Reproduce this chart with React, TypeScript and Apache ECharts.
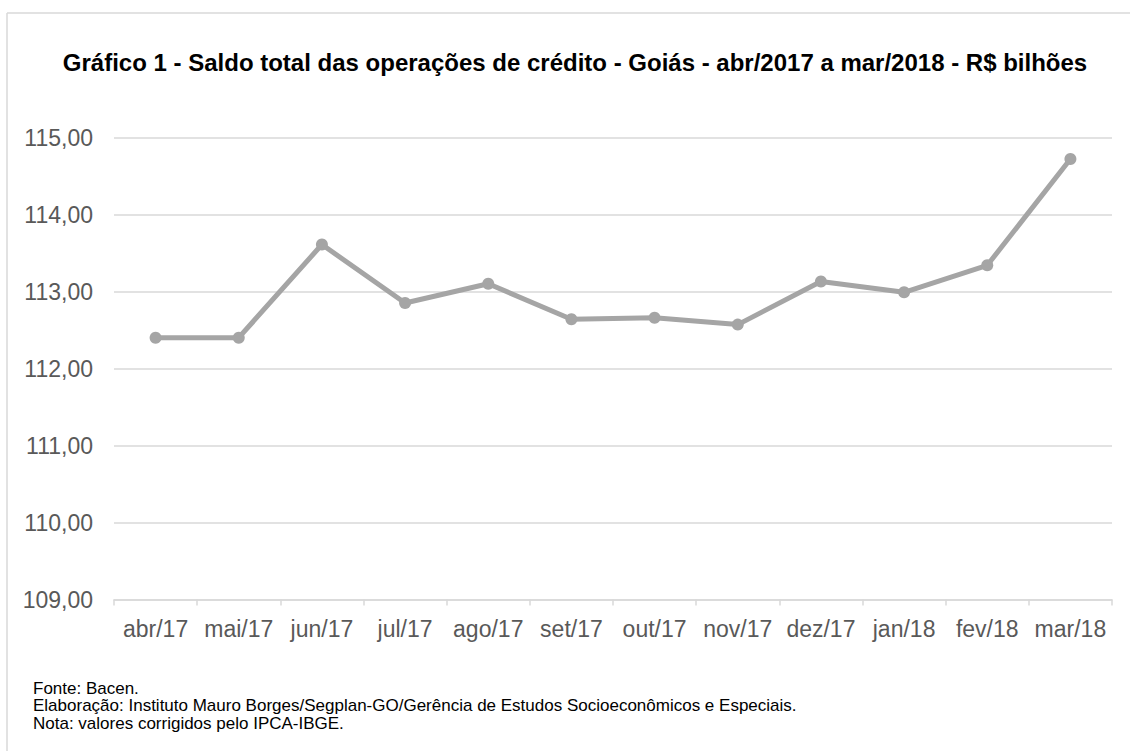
import React, { useEffect, useRef } from "react";
import * as echarts from "echarts";

const categories = ["abr/17", "mai/17", "jun/17", "jul/17", "ago/17", "set/17", "out/17", "nov/17", "dez/17", "jan/18", "fev/18", "mar/18"];
const saldo = [112.4, 112.4, 113.61, 112.85, 113.1, 112.64, 112.66, 112.57, 113.13, 112.99, 113.34, 114.72];
const yMin = 109;
const yMax = 115;
const yStep = 1;
const titleText = "Gráfico 1 - Saldo total das operações de crédito - Goiás - abr/2017 a mar/2018 - R$ bilhões";
const notes = [
  "Fonte: Bacen.",
  "Elaboração: Instituto Mauro Borges/Segplan-GO/Gerência de Estudos Socioeconômicos e Especiais.",
  "Nota: valores corrigidos pelo IPCA-IBGE.",
];

const FONT = "'Liberation Sans', Arial, sans-serif";

export default function App() {
  const ref = useRef<HTMLDivElement>(null);
  useEffect(() => {
    if (!ref.current) return;
    const chart = echarts.init(ref.current, null, { renderer: "svg" });
    chart.setOption({
      animation: false,
      backgroundColor: "#ffffff",
      grid: { left: 114, right: 18, top: 137.5, bottom: 151.5, containLabel: false },
      xAxis: {
        type: "category",
        data: categories,
        boundaryGap: true,
        axisLine: { show: true, lineStyle: { color: "#d9d9d9", width: 1.5 } },
        axisTick: { show: true, alignWithLabel: false, length: 6, lineStyle: { color: "#d9d9d9", width: 1.5 } },
        axisLabel: { color: "#595959", fontSize: 23, fontFamily: FONT, margin: 18, interval: 0 },
      },
      yAxis: {
        type: "value",
        min: yMin,
        max: yMax,
        interval: yStep,
        axisLine: { show: false },
        axisTick: { show: false },
        splitLine: { lineStyle: { color: "#d9d9d9", width: 1.5 } },
        axisLabel: {
          color: "#595959",
          fontSize: 23,
          fontFamily: FONT,
          margin: 21,
          formatter: (v: number) => v.toFixed(2).replace(".", ","),
        },
      },
      series: [
        {
          type: "line",
          data: saldo,
          symbol: "circle",
          symbolSize: 12,
          lineStyle: { color: "#a5a5a5", width: 5 },
          itemStyle: { color: "#a5a5a5" },
        },
      ],
      graphic: [
        {
          type: "line",
          shape: { x1: 7, y1: 13, x2: 1130, y2: 13 },
          style: { stroke: "#d9d9d9", lineWidth: 1.5 },
          silent: true,
        },
        {
          type: "line",
          shape: { x1: 7, y1: 13, x2: 7, y2: 751 },
          style: { stroke: "#d9d9d9", lineWidth: 1.5 },
          silent: true,
        },
        {
          type: "text",
          x: 575,
          y: 62,
          style: {
            text: titleText,
            fontSize: 24,
            fontWeight: "bold",
            fontFamily: FONT,
            fill: "#000000",
            textAlign: "center",
            textVerticalAlign: "middle",
          },
        },
        ...notes.map((t, i) => ({
          type: "text",
          x: 33,
          y: 688 + i * 17.5,
          style: {
            text: t,
            fontSize: 17,
            fontFamily: FONT,
            fill: "#000000",
            textAlign: "left",
            textVerticalAlign: "middle",
          },
        })),
      ],
    });
    return () => chart.dispose();
  }, []);
  return (
    <div
      ref={ref}
      style={{ position: "fixed", left: 0, top: 0, width: 1130, height: 751 }}
    />
  );
}
